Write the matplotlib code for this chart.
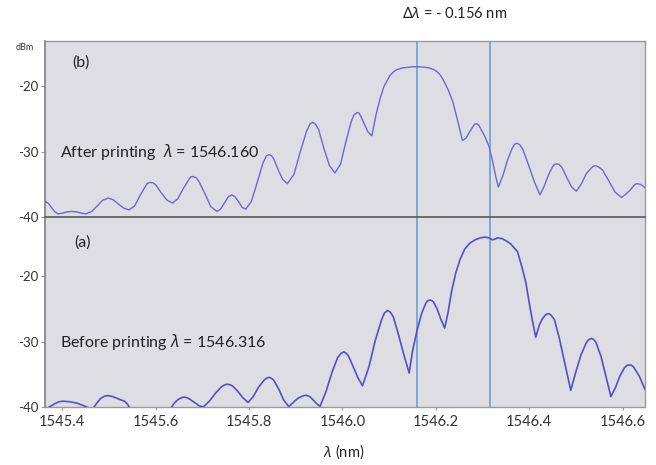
import matplotlib.pyplot as plt
import numpy as np

plt.rcParams['font.family'] = ['Lato', 'DejaVu Sans']
plt.rcParams['mathtext.fontset'] = 'custom'
plt.rcParams['mathtext.it'] = 'Noto Sans:italic'
plt.rcParams['mathtext.rm'] = 'Lato'

# (b) after printing
wl_b = [1545.363, 1545.370, 1545.377, 1545.384, 1545.391, 1545.398, 1545.405, 1545.413,
        1545.420, 1545.428, 1545.436, 1545.443, 1545.451, 1545.463, 1545.475, 1545.486,
        1545.498, 1545.509, 1545.520, 1545.532, 1545.543, 1545.555, 1545.566, 1545.578,
        1545.589, 1545.601, 1545.612, 1545.624, 1545.636, 1545.647, 1545.658, 1545.670,
        1545.681, 1545.693, 1545.706, 1545.718, 1545.731, 1545.739, 1545.747, 1545.755,
        1545.763, 1545.770, 1545.778, 1545.785, 1545.793, 1545.805, 1545.818, 1545.830,
        1545.843, 1545.853, 1545.862, 1545.872, 1545.882, 1545.896, 1545.909, 1545.923,
        1545.937, 1545.949, 1545.960, 1545.972, 1545.984, 1545.996, 1546.007, 1546.019,
        1546.031, 1546.039, 1546.047, 1546.055, 1546.063, 1546.073, 1546.089, 1546.102,
        1546.116, 1546.127, 1546.137, 1546.150, 1546.162, 1546.175, 1546.187, 1546.195,
        1546.202, 1546.209, 1546.216, 1546.227, 1546.237, 1546.247, 1546.257, 1546.265,
        1546.272, 1546.280, 1546.287, 1546.297, 1546.306, 1546.314, 1546.322, 1546.328,
        1546.334, 1546.344, 1546.354, 1546.364, 1546.374, 1546.386, 1546.398, 1546.411,
        1546.423, 1546.432, 1546.441, 1546.450, 1546.459, 1546.470, 1546.480, 1546.491,
        1546.501, 1546.512, 1546.522, 1546.533, 1546.543, 1546.557, 1546.570, 1546.584,
        1546.598, 1546.607, 1546.616, 1546.624, 1546.633, 1546.641, 1546.648,
        # extra points read on the rounded tops
        1545.582, 1545.595, 1545.675, 1545.687, 1545.837, 1545.848, 1545.931, 1545.943,
        1546.025, 1546.035, 1546.283, 1546.292, 1546.369, 1546.380, 1546.454, 1546.464,
        1546.538, 1546.549, 1546.628, 1546.637, 1546.081, 1546.109]
db_b = [-37.6, -37.9, -38.55, -39.2, -39.5, -39.45, -39.3, -39.2,
        -39.15, -39.2, -39.3, -39.45, -39.5, -39.15, -38.3, -37.45,
        -37.1, -37.35, -38.0, -38.65, -38.9, -38.3, -36.8, -35.3,
        -34.7, -35.15, -36.3, -37.4, -37.85, -37.25, -35.8, -34.4,
        -33.8, -34.6, -36.5, -38.4, -39.15, -38.8, -37.9, -36.95,
        -36.6, -36.9, -37.7, -38.5, -38.8, -37.6, -34.6, -31.7,
        -30.45, -31.1, -32.7, -34.25, -34.9, -33.5, -30.2, -26.9,
        -25.5, -26.6, -29.4, -32.1, -33.25, -31.9, -28.6, -25.35,
        -24.0, -24.5, -25.8, -27.0, -27.55, -24.0, -20.0, -18.3,
        -17.45, -17.2, -17.1, -17.0, -17.0, -17.05, -17.2, -17.4,
        -17.7, -18.2, -19.0, -20.6, -22.5, -25.3, -28.3, -27.9,
        -27.0, -26.1, -25.7, -26.6, -27.8, -29.2, -31.6, -33.7,
        -35.4, -33.6, -31.2, -29.4, -28.7, -29.6, -31.9, -34.6,
        -36.6, -35.3, -33.6, -32.3, -31.85, -32.4, -33.9, -35.4,
        -36.05, -34.9, -33.4, -32.5, -32.15, -32.8, -34.4, -36.2,
        -37.0, -36.5, -35.9, -35.2, -34.9, -35.1, -35.5,
        -34.85, -34.8, -33.85, -34.0, -30.65, -30.6, -25.7, -25.85,
        -24.35, -24.05, -25.8, -25.95, -28.85, -28.95, -31.95, -31.95,
        -32.2, -32.35, -34.95, -35.0, -21.8, -17.8]

# (a) before printing
wl_a = [1545.367, 1545.385, 1545.393, 1545.402, 1545.417, 1545.431, 1545.446, 1545.459,
        1545.466, 1545.474, 1545.482, 1545.490, 1545.498, 1545.508, 1545.520, 1545.534,
        1545.540, 1545.545, 1545.632, 1545.640, 1545.648, 1545.655, 1545.663, 1545.673,
        1545.683, 1545.693, 1545.702, 1545.715, 1545.728, 1545.741, 1545.754, 1545.765,
        1545.776, 1545.787, 1545.798, 1545.809, 1545.820, 1545.832, 1545.843, 1545.853,
        1545.864, 1545.874, 1545.885, 1545.895, 1545.904, 1545.914, 1545.923, 1545.930,
        1545.937, 1545.945, 1545.952, 1545.965, 1545.978, 1545.990, 1546.003, 1546.013,
        1546.023, 1546.033, 1546.043, 1546.057, 1546.070, 1546.084, 1546.097, 1546.109,
        1546.120, 1546.132, 1546.143, 1546.150, 1546.160, 1546.170, 1546.178, 1546.187,
        1546.195, 1546.203, 1546.211, 1546.219, 1546.226, 1546.234, 1546.243, 1546.252,
        1546.262, 1546.273, 1546.284, 1546.295, 1546.305, 1546.314, 1546.321, 1546.326,
        1546.332, 1546.342, 1546.352, 1546.360, 1546.375, 1546.385, 1546.393, 1546.400,
        1546.407, 1546.414, 1546.421, 1546.428, 1546.435, 1546.442, 1546.454, 1546.465,
        1546.477, 1546.489, 1546.500, 1546.511, 1546.522, 1546.533, 1546.543, 1546.554,
        1546.565, 1546.575, 1546.585, 1546.594, 1546.604, 1546.614, 1546.624, 1546.636,
        1546.648,
        # extra points read on the rounded tops
        1545.748, 1545.760, 1545.837, 1545.848, 1545.997, 1546.008, 1546.090, 1546.103,
        1546.182, 1546.191, 1546.438, 1546.447, 1546.527, 1546.538, 1546.609, 1546.619,
        1545.918, 1545.658, 1545.668]
db_a = [-40.2, -39.45, -39.2, -39.1, -39.2, -39.4, -39.8, -40.2,
        -40.2, -39.4, -38.7, -38.35, -38.25, -38.4, -38.75, -39.15,
        -39.6, -40.2, -40.2, -39.4, -38.85, -38.6, -38.5, -38.8,
        -39.3, -39.8, -40.0, -39.1, -37.9, -36.9, -36.5, -36.8,
        -37.6, -38.6, -39.3, -38.4, -37.0, -35.9, -35.45, -35.9,
        -37.3, -38.9, -39.95, -39.3, -38.7, -38.35, -38.2, -38.4,
        -38.9, -39.5, -39.9, -37.6, -34.6, -32.4, -31.55, -32.2,
        -33.8, -35.5, -36.75, -33.8, -29.9, -26.6, -25.2, -26.2,
        -28.9, -32.1, -34.8, -31.5, -28.2, -25.6, -24.2, -23.6,
        -23.9, -25.0, -26.6, -27.9, -25.6, -22.2, -19.4, -17.4,
        -15.8, -14.9, -14.4, -14.1, -13.97, -14.1, -14.4, -14.3,
        -14.1, -14.2, -14.6, -15.0, -16.2, -18.7, -21.0, -24.0,
        -26.8, -29.3, -27.6, -26.5, -25.9, -25.7, -26.6, -29.6,
        -33.5, -37.45, -34.6, -32.0, -30.2, -29.5, -30.1, -32.3,
        -35.5, -38.4, -37.0, -35.3, -34.0, -33.55, -33.9, -35.3,
        -37.3,
        -36.6, -36.6, -35.6, -35.6, -31.8, -31.75, -25.6, -25.5,
        -23.75, -23.7, -25.75, -25.95, -29.7, -29.65, -33.65, -33.6,
        -38.25, -38.5, -38.6]

peak_b = 1546.160
peak_a = 1546.316
x_ticks = [1545.4, 1545.6, 1545.8, 1546.0, 1546.2, 1546.4, 1546.6]
y_ticks = [-20, -30, -40]

bg = '#dddde3'
vline_col = '#6d9fd2'
frame_col = '#9a9a9a'

ob = np.argsort(wl_b)
oa = np.argsort(wl_a)

fig = plt.figure(figsize=(6.56, 4.65), dpi=100)
ax_a = fig.add_axes([0.0686, 0.1247, 0.9146, 0.4086])
ax_b = fig.add_axes([0.0686, 0.5333, 0.9146, 0.3785])

for ax in (ax_a, ax_b):
    ax.set_facecolor(bg)
    ax.set_xlim(1545.363, 1546.648)
    ax.set_yticks(y_ticks)
    ax.set_yticklabels([str(t) for t in y_ticks])
    for s in ax.spines.values():
        s.set_color(frame_col)
        s.set_linewidth(1.0)
    ax.spines['left'].set_color('#888888')
    ax.spines['left'].set_linewidth(1.3)
    ax.tick_params(axis='y', length=3, width=0.8, color='#999999', labelsize=9.5,
                   labelcolor='#333333', pad=2)
    ax.axvline(peak_b, color=vline_col, lw=1.2, zorder=3)
    ax.axvline(peak_a, color=vline_col, lw=1.2, zorder=3)

ax_b.set_ylim(-40, -13.05)
ax_a.set_ylim(-40, -10.9)

ax_b.plot(np.array(wl_b)[ob], np.array(db_b)[ob], color='#6a6ad0', lw=1.0, zorder=4,
          solid_joinstyle='round')
ax_a.plot(np.array(wl_a)[oa], np.array(db_a)[oa], color='#5252c4', lw=1.2, zorder=4,
          solid_joinstyle='round')

ax_b.spines['bottom'].set_color('#5a5a5a')
ax_b.spines['bottom'].set_linewidth(1.2)
ax_b.spines['bottom'].set_zorder(6)
ax_a.spines['top'].set_visible(False)
ax_b.tick_params(axis='x', bottom=False, labelbottom=False)

ax_a.set_xticks(x_ticks)
ax_a.set_xticklabels(['%.1f' % t for t in x_ticks])
ax_a.tick_params(axis='x', length=2, width=0.8, color='#999999', labelsize=10.5,
                 labelcolor='#333333', pad=4)

ax_b.text(0.046, 0.875, '(b)', transform=ax_b.transAxes, fontsize=11.5, color='#222222',
          va='center')
ax_a.text(0.048, 0.863, '(a)', transform=ax_a.transAxes, fontsize=11.5, color='#222222',
          va='center')
ax_b.text(0.025, 0.37, r'After printing  $\mathit{\lambda}$ = 1546.160',
          transform=ax_b.transAxes, fontsize=11.5, color='#222222', va='center')
ax_a.text(0.025, 0.342, r'Before printing $\mathit{\lambda}$ = 1546.316',
          transform=ax_a.transAxes, fontsize=11.5, color='#222222', va='center')

fig.text(25 / 656, 1 - 48 / 465, 'dBm', fontsize=6.5, color='#333333', ha='center',
         va='center')
fig.text(455 / 656, 1 - 13 / 465, r'$\mathit{\Delta\lambda}$ = - 0.156 nm', fontsize=10.5,
         color='#222222', ha='center', va='center')
fig.text(344 / 656, 1 - 452 / 465, r'$\mathit{\lambda}$ (nm)', fontsize=10.5,
         color='#222222', ha='center', va='center')

fig.savefig('out.png', dpi=100)
